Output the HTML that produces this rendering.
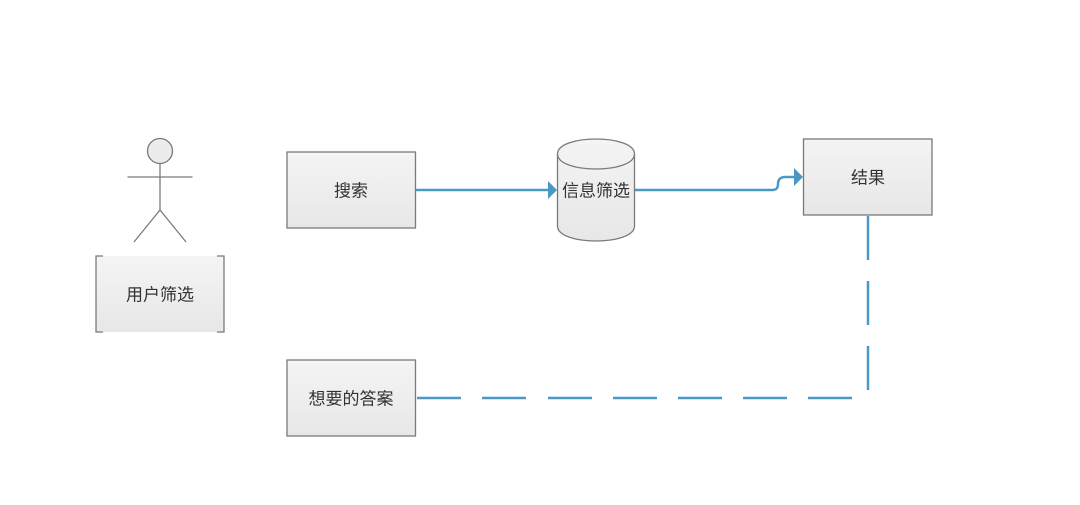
<!DOCTYPE html>
<html>
<head>
<meta charset="utf-8">
<style>
html,body{margin:0;padding:0;background:#fff;width:1080px;height:505px;overflow:hidden}
svg{display:block;filter:blur(0.3px)}
text{font-family:"Liberation Sans","Noto Sans CJK SC",sans-serif;font-size:17px;fill:#333;text-anchor:middle}
</style>
</head>
<body>
<svg width="1080" height="505" viewBox="0 0 1080 505" xmlns="http://www.w3.org/2000/svg">
<defs>
<linearGradient id="g" x1="0" y1="0" x2="0" y2="1">
<stop offset="0" stop-color="#f4f4f4"/>
<stop offset="1" stop-color="#e7e7e7"/>
</linearGradient>
</defs>

<!-- actor -->
<circle cx="160" cy="151" r="12.5" fill="#ececec" stroke="#7a7a7a" stroke-width="1.300"/>
<path d="M160 163.500V210M127.500 177H192.500M160 210L134 242M160 210L186 242" fill="none" stroke="#7a7a7a" stroke-width="1.300"/>

<!-- bracket box -->
<rect x="96" y="256" width="128" height="76" fill="url(#g)"/>
<path d="M103 256H96V332H103M217 256H224V332H217" fill="none" stroke="#7a7a7a" stroke-width="1.300"/>
<text x="160" y="300.500">用户筛选</text>

<!-- boxes -->
<rect x="287" y="152" width="128.500" height="76" fill="url(#g)" stroke="#7a7a7a" stroke-width="1.300"/>
<text x="351" y="196.500">搜索</text>

<rect x="287" y="360" width="128.500" height="76" fill="url(#g)" stroke="#7a7a7a" stroke-width="1.300"/>
<text x="351" y="404.500">想要的答案</text>

<rect x="803.500" y="139" width="128.500" height="76" fill="url(#g)" stroke="#7a7a7a" stroke-width="1.300"/>
<text x="868" y="183.500">结果</text>

<!-- cylinder -->
<path d="M557.500 154C557.500 134 634.500 134 634.500 154V226C634.500 246 557.500 246 557.500 226Z" fill="url(#g)" stroke="#7a7a7a" stroke-width="1.300"/>
<path d="M557.500 154C557.500 174 634.500 174 634.500 154" fill="none" stroke="#7a7a7a" stroke-width="1.300"/>
<text x="596" y="196.500">信息筛选</text>

<!-- connectors -->
<g fill="none" stroke="#4a98c4" stroke-width="2.500">
<path d="M416 190H549"/>
<path d="M635 190H772C776.500 190 778 188 778 184C778 179 781 177 785 177H796"/>
<path d="M417 398H461M482 398H526M548 398H592M613 398H657M678 398H722M743 398H787M808 398H852"/>
<path d="M868 216V260M868 281V325M868 346V390"/>
</g>
<path d="M548 181L557 190L548 199Z" fill="#4a98c4"/>
<path d="M794 168L803 177L794 186Z" fill="#4a98c4"/>
</svg>
</body>
</html>
